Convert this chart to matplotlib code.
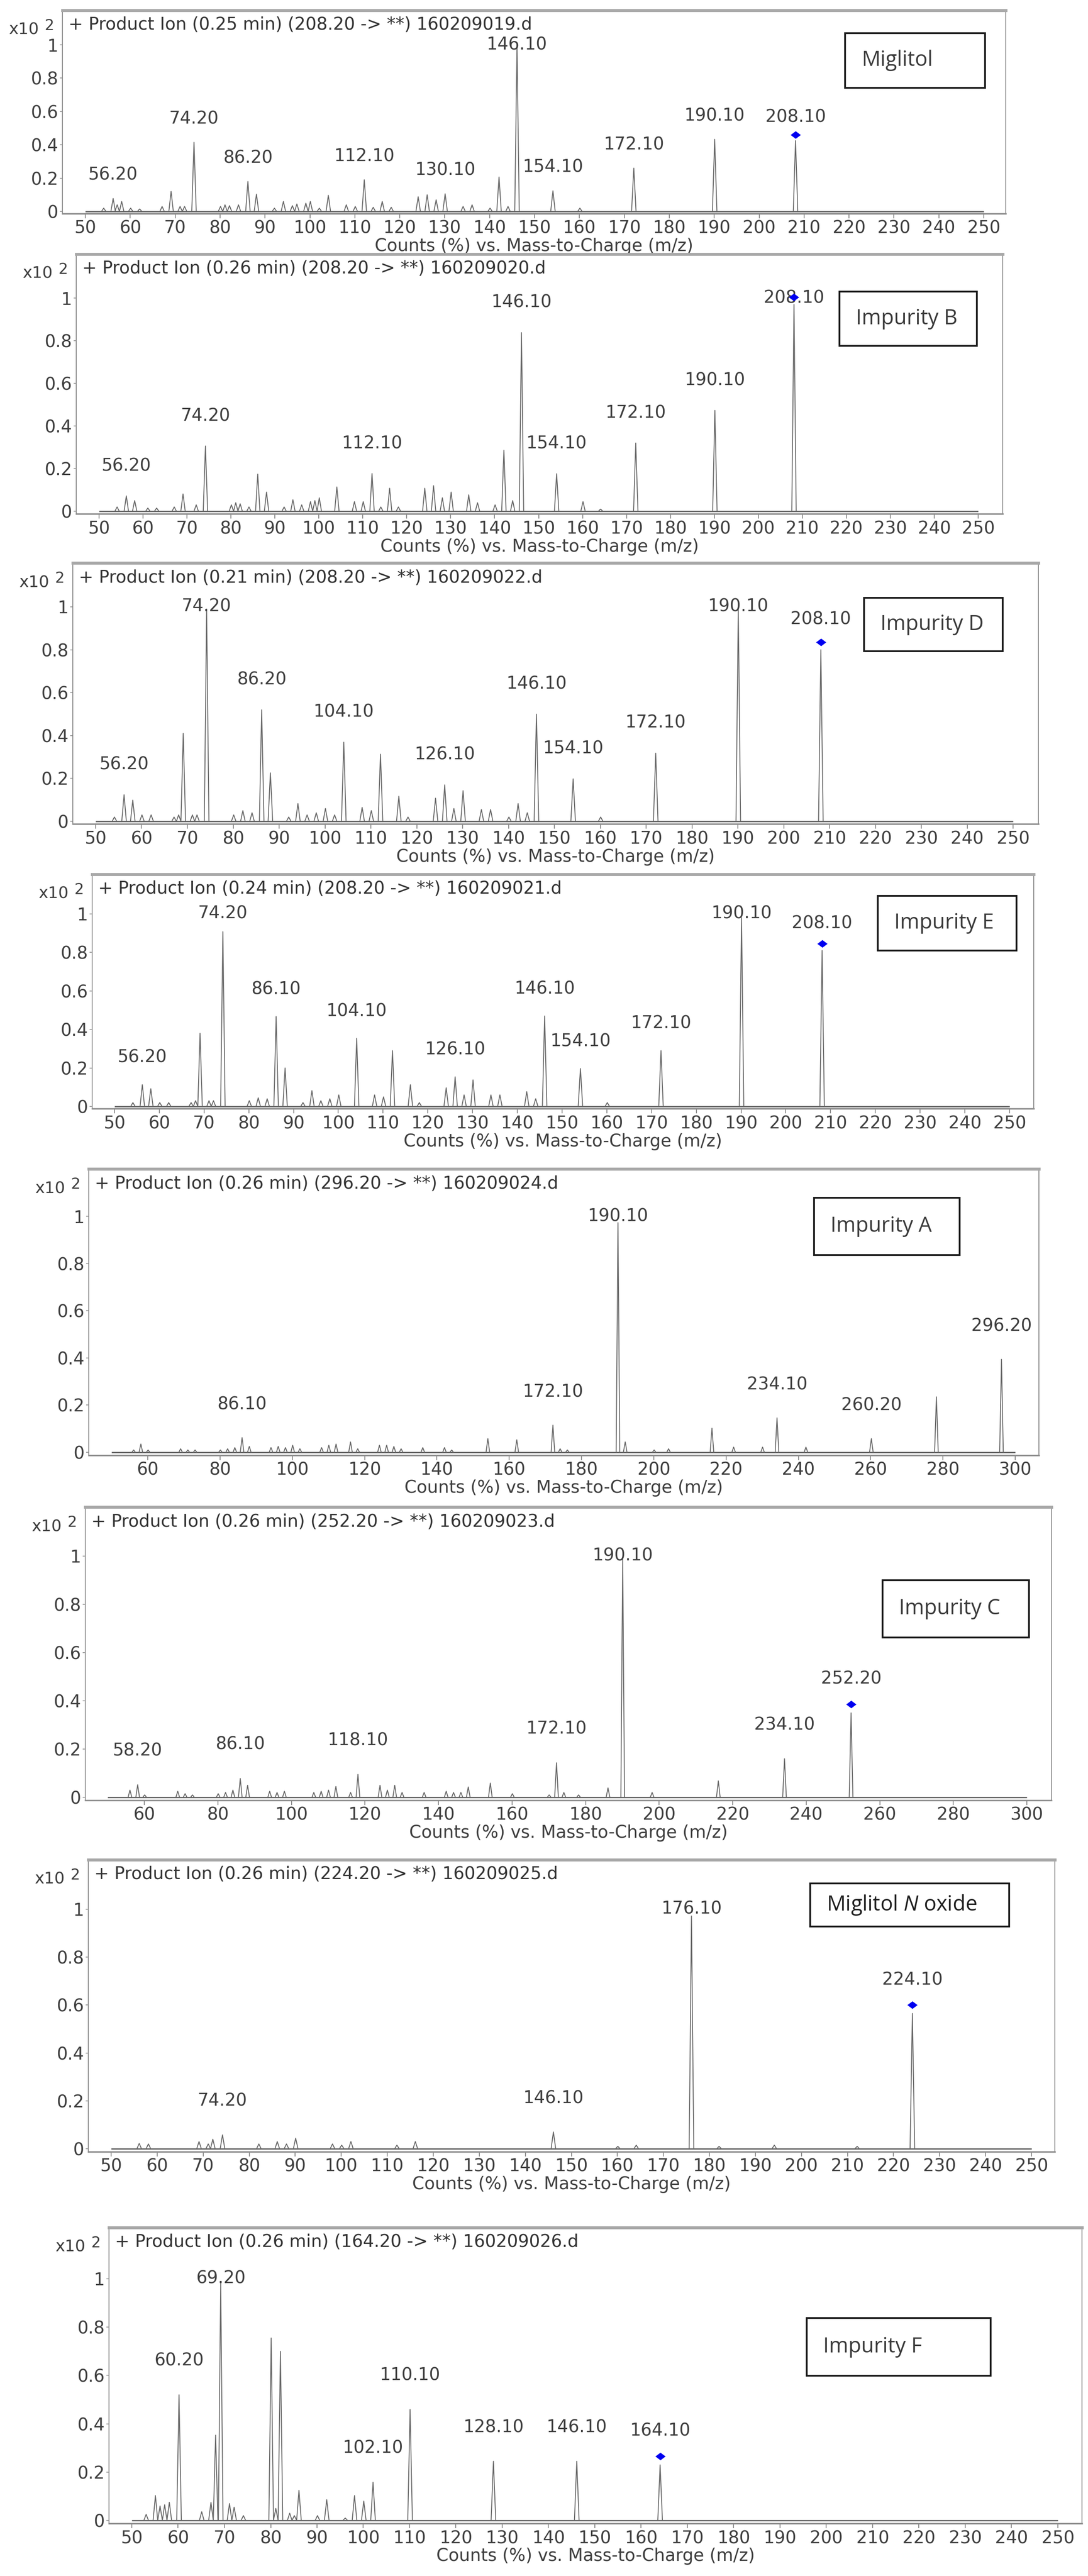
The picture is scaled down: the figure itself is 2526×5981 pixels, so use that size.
import matplotlib.pyplot as plt
from matplotlib.patches import Rectangle

plt.rcParams['font.family'] = ['DejaVu Sans']
plt.rcParams['mathtext.fontset'] = 'custom'
plt.rcParams['mathtext.rm'] = 'Open Sans'
plt.rcParams['mathtext.it'] = 'Open Sans:italic'

W, H = 2526, 5981

# ---- spectra (m/z, relative counts x10^2) ----
mig_mz = [54.1, 56.2, 57.1, 58.1, 60.1, 62.1, 67.1, 69.1, 71.1, 72.1, 74.2, 80.1, 81.1, 82.1, 84.1,
          86.2, 88.1, 92.1, 94.1, 96.1, 97.1, 99.1, 100.1, 102.1, 104.1, 108.1, 110.1, 112.1, 114.1,
          116.1, 118.1, 124.1, 126.1, 128.1, 130.1, 134.1, 136.1, 140.1, 142.1, 144.1, 146.1, 154.1,
          160.1, 172.1, 190.1, 208.1]
mig_int = [0.02, 0.078, 0.04, 0.06, 0.02, 0.015, 0.03, 0.12, 0.03, 0.03, 0.415, 0.03, 0.04, 0.035, 0.04,
           0.18, 0.104, 0.02, 0.06, 0.035, 0.045, 0.05, 0.06, 0.02, 0.097, 0.04, 0.03, 0.19, 0.025,
           0.06, 0.025, 0.088, 0.10, 0.07, 0.106, 0.03, 0.04, 0.02, 0.207, 0.03, 1.0, 0.124,
           0.02, 0.26, 0.433, 0.425]
mig_lab = [56.2, 74.2, 86.2, 112.1, 130.1, 146.1, 154.1, 172.1, 190.1, 208.1]

impb_mz = [54.1, 56.2, 58.1, 61.1, 63.1, 67.1, 69.1, 72.1, 74.2, 80.1, 81.1, 82.1, 84.1, 86.1, 88.1,
           92.1, 94.1, 96.1, 98.1, 99.1, 100.1, 104.1, 108.1, 110.1, 112.1, 114.1, 116.1, 118.1,
           124.1, 126.1, 128.1, 130.1, 134.1, 136.1, 140.1, 142.1, 144.1, 146.1, 154.1, 160.1,
           164.1, 172.1, 190.1, 208.1]
impb_int = [0.02, 0.072, 0.05, 0.015, 0.015, 0.02, 0.081, 0.03, 0.306, 0.03, 0.04, 0.035, 0.02, 0.174, 0.09,
            0.02, 0.054, 0.03, 0.045, 0.05, 0.063, 0.114, 0.045, 0.045, 0.177, 0.02, 0.108, 0.02,
            0.108, 0.12, 0.063, 0.09, 0.077, 0.04, 0.03, 0.286, 0.05, 0.838, 0.176, 0.045,
            0.01, 0.32, 0.473, 0.97]
impb_lab = [56.2, 74.2, 112.1, 146.1, 154.1, 172.1, 190.1, 208.1]

impd_mz = [54.1, 56.2, 58.1, 60.1, 62.1, 67.1, 68.1, 69.1, 71.1, 72.1, 74.2, 80.1, 82.1, 84.1, 86.2,
           88.1, 92.1, 94.1, 96.1, 98.1, 100.1, 102.1, 104.1, 108.1, 110.1, 112.1, 116.1, 118.1,
           124.1, 126.1, 128.1, 130.1, 134.1, 136.1, 140.1, 142.1, 144.1, 146.1, 154.1, 160.1,
           172.1, 190.1, 208.1]
impd_int = [0.02, 0.124, 0.099, 0.03, 0.03, 0.02, 0.03, 0.41, 0.03, 0.03, 0.99, 0.03, 0.05, 0.04, 0.52,
            0.226, 0.02, 0.083, 0.03, 0.04, 0.06, 0.03, 0.369, 0.065, 0.05, 0.313, 0.117, 0.02,
            0.108, 0.17, 0.06, 0.143, 0.055, 0.055, 0.02, 0.083, 0.04, 0.50, 0.198, 0.02,
            0.318, 0.99, 0.80]
impd_lab = [56.2, 74.2, 86.2, 104.1, 126.1, 146.1, 154.1, 172.1, 190.1, 208.1]

impe_mz = [54.1, 56.2, 58.1, 60.1, 62.1, 67.1, 68.1, 69.1, 71.1, 72.1, 74.2, 80.1, 82.1, 84.1, 86.1,
           88.1, 92.1, 94.1, 96.1, 98.1, 100.1, 104.1, 108.1, 110.1, 112.1, 116.1, 118.1, 124.1,
           126.1, 128.1, 130.1, 134.1, 136.1, 142.1, 144.1, 146.1, 154.1, 160.1, 172.1, 190.1, 208.1]
impe_int = [0.02, 0.113, 0.092, 0.02, 0.02, 0.02, 0.03, 0.38, 0.03, 0.03, 0.908, 0.03, 0.045, 0.04, 0.467,
            0.2, 0.02, 0.082, 0.03, 0.04, 0.06, 0.354, 0.06, 0.05, 0.29, 0.113, 0.02, 0.097,
            0.154, 0.06, 0.138, 0.06, 0.06, 0.077, 0.04, 0.47, 0.197, 0.02, 0.29, 0.98, 0.81]
impe_lab = [56.2, 74.2, 86.1, 104.1, 126.1, 146.1, 154.1, 172.1, 190.1, 208.1]

impa_mz = [56.1, 58.1, 60.1, 69.1, 71.1, 73.1, 80.1, 82.1, 84.1, 86.1, 88.1, 94.1, 96.1, 98.1, 100.1,
           102.1, 108.1, 110.1, 112.1, 116.1, 118.1, 124.1, 126.1, 128.1, 130.1, 136.1, 142.1, 144.1,
           154.1, 162.1, 172.1, 174.1, 176.1, 190.1, 192.1, 200.1, 204.1, 216.1, 222.1, 230.1,
           234.1, 242.1, 260.2, 278.2, 296.2]
impa_int = [0.01, 0.035, 0.01, 0.015, 0.01, 0.01, 0.01, 0.015, 0.02, 0.062, 0.025, 0.02, 0.025, 0.02, 0.03,
            0.015, 0.02, 0.03, 0.035, 0.044, 0.015, 0.03, 0.03, 0.025, 0.015, 0.02, 0.02, 0.01,
            0.058, 0.053, 0.115, 0.015, 0.01, 0.973, 0.044, 0.01, 0.015, 0.102, 0.022, 0.022,
            0.146, 0.022, 0.058, 0.235, 0.394]
impa_lab = [86.1, 172.1, 190.1, 234.1, 260.2, 296.2]

impc_mz = [56.1, 58.2, 60.1, 69.1, 71.1, 73.1, 80.1, 82.1, 84.1, 86.1, 88.1, 94.1, 96.1, 98.1, 106.1,
           108.1, 110.1, 112.1, 116.1, 118.1, 124.1, 126.1, 128.1, 130.1, 136.1, 142.1, 144.1,
           146.1, 148.1, 154.1, 160.1, 170.1, 172.1, 174.1, 178.1, 186.1, 190.1, 198.1, 216.1,
           234.1, 252.2]
impc_int = [0.03, 0.052, 0.01, 0.025, 0.015, 0.01, 0.015, 0.02, 0.03, 0.078, 0.05, 0.025, 0.02, 0.025, 0.02,
            0.025, 0.03, 0.045, 0.02, 0.095, 0.05, 0.03, 0.05, 0.02, 0.02, 0.025, 0.02,
            0.02, 0.043, 0.059, 0.015, 0.01, 0.143, 0.02, 0.01, 0.039, 0.987, 0.02, 0.068,
            0.16, 0.35]
impc_lab = [58.2, 86.1, 118.1, 172.1, 190.1, 234.1, 252.2]

nox_mz = [56.1, 58.1, 69.1, 71.1, 72.1, 74.2, 82.1, 86.1, 88.1, 90.1, 98.1, 100.1, 102.1, 112.1,
          116.1, 146.1, 160.1, 164.1, 176.1, 182.1, 194.1, 212.1, 224.1]
nox_int = [0.022, 0.02, 0.03, 0.02, 0.04, 0.058, 0.02, 0.03, 0.02, 0.044, 0.02, 0.015, 0.03, 0.015,
           0.03, 0.07, 0.01, 0.015, 0.972, 0.01, 0.015, 0.01, 0.565]
nox_lab = [74.2, 146.1, 176.1, 224.1]

impf_mz = [53.1, 55.1, 56.1, 57.1, 58.1, 60.2, 65.1, 67.1, 68.1, 69.2, 71.1, 72.1, 74.1, 80.1, 81.1,
           82.1, 84.1, 85.1, 86.1, 90.1, 92.1, 96.1, 98.1, 100.1, 102.1, 110.1, 128.1, 146.1, 164.1]
impf_int = [0.025, 0.103, 0.06, 0.065, 0.075, 0.52, 0.036, 0.075, 0.353, 0.983, 0.07, 0.055, 0.02, 0.755, 0.05,
            0.70, 0.03, 0.02, 0.125, 0.02, 0.086, 0.01, 0.103, 0.08, 0.158, 0.459, 0.245, 0.245, 0.23]
impf_lab = [60.2, 69.2, 102.1, 110.1, 128.1, 146.1, 164.1]

titles = ['+ Product Ion (0.25 min) (208.20 -> **) 160209019.d',
          '+ Product Ion (0.26 min) (208.20 -> **) 160209020.d',
          '+ Product Ion (0.21 min) (208.20 -> **) 160209022.d',
          '+ Product Ion (0.24 min) (208.20 -> **) 160209021.d',
          '+ Product Ion (0.26 min) (296.20 -> **) 160209024.d',
          '+ Product Ion (0.26 min) (252.20 -> **) 160209023.d',
          '+ Product Ion (0.26 min) (224.20 -> **) 160209025.d',
          '+ Product Ion (0.26 min) (164.20 -> **) 160209026.d']
names = ['Miglitol', 'Impurity B', 'Impurity D', 'Impurity E', 'Impurity A', 'Impurity C',
         r'Miglitol $\mathit{N}$ oxide', 'Impurity F']
precursor = [208.1, 208.1, 208.1, 208.1, None, 252.2, 224.1, 164.1]
mz_range = [(50, 250)] * 4 + [(50, 300)] * 2 + [(50, 250)] * 2

spectra = [(mig_mz, mig_int, mig_lab), (impb_mz, impb_int, impb_lab), (impd_mz, impd_int, impd_lab),
           (impe_mz, impe_int, impe_lab), (impa_mz, impa_int, impa_lab), (impc_mz, impc_int, impc_lab),
           (nox_mz, nox_int, nox_lab), (impf_mz, impf_int, impf_lab)]

# ---- layout in pixels: frame left/right/top, y=0 and y=1 rows, first/last x tick columns ----
frames = [(145, 2335, 24, 491, 104, 198, 2284),
          (177, 2328, 590, 1187, 692, 230, 2271),
          (169, 2411, 1307, 1907, 1409, 222, 2352),
          (214, 2400, 2030, 2569, 2122, 266, 2344),
          (206, 2412, 2714, 3372, 2824, 343, 2357),
          (198, 2441, 3499, 4173, 3613, 335, 2384),
          (205, 2449, 4318, 4989, 4433, 258, 2395),
          (253, 2512, 5172, 5852, 5291, 306, 2456)]
boxes = [(1962, 2287, 77, 204), (1949, 2268, 677, 803), (2006, 2328, 1388, 1512),
         (2038, 2360, 2080, 2207), (1890, 2228, 2781, 2914), (2049, 2389, 3669, 3802),
         (1881, 2343, 4373, 4473), (1873, 2300, 5382, 5516)]

TXT = '#3f3f3f'
LINE = '#666666'
FS = 29

fig = plt.figure(figsize=(W / 100, H / 100), dpi=100)

for i in range(8):
    mz, inten, labs = spectra[i]
    L, R, T, y0, y1, xa, xb = frames[i]
    lo, hi = mz_range[i]
    step = 10 if hi == 250 else 20
    first = lo if step == 10 else 60
    B = y0 + 0.012 * (y0 - y1)
    ax = fig.add_axes([L / W, 1 - B / H, (R - L) / W, (B - T) / H])

    ppu = (xb - xa) / (hi - first)
    ax.set_xlim(first - (xa - L) / ppu, hi + (R - xb) / ppu)
    ax.set_ylim(-0.012, 1 + (y1 - T) / (y0 - y1))

    # baseline and peaks
    ax.plot([lo, hi], [0, 0], color=LINE, lw=2.2, solid_capstyle='butt')
    for m, h in zip(mz, inten):
        ax.plot([m - 0.5, m, m + 0.5], [0, h, 0], color=LINE, lw=1.5)

    for lab in labs:
        j = min(range(len(mz)), key=lambda k: abs(mz[k] - lab))
        ax.text(mz[j], min(inten[j] + 0.14, 1.0), '%.2f' % lab, ha='center', va='center',
                fontsize=FS, color=TXT)

    if precursor[i] is not None:
        j = mz.index(precursor[i])
        ax.plot(mz[j], inten[j] + 0.035, marker=[(-1, 0), (0, 0.75), (1, 0), (0, -0.75)],
                ms=17, color='#0000f0', mew=0, zorder=5)

    ax.set_xticks(range(first, hi + 1, step))
    ax.set_yticks([0, 0.2, 0.4, 0.6, 0.8, 1])
    ax.set_yticklabels(['0', '0.2', '0.4', '0.6', '0.8', '1'])
    ax.tick_params(axis='x', direction='out', length=8, width=1.5, color='#8a8a8a',
                   labelsize=FS, labelcolor=TXT, pad=3)
    ax.tick_params(axis='y', direction='out', length=4, width=1.2, color='#8a8a8a',
                   labelsize=FS, labelcolor=TXT, pad=3)
    ax.set_xlabel('Counts (%) vs. Mass-to-Charge (m/z)', fontsize=FS, color=TXT, labelpad=1)

    for side in ['left', 'right']:
        ax.spines[side].set_color('#8c8c8c')
        ax.spines[side].set_linewidth(1.5)
    ax.spines['top'].set_color('#a8a8a8')
    ax.spines['top'].set_linewidth(5)
    ax.spines['bottom'].set_color('#8c8c8c')
    ax.spines['bottom'].set_linewidth(2.5)

    ax.annotate(titles[i], xy=(0, 1), xycoords='axes fraction', xytext=(14, -34),
                textcoords='offset pixels', ha='left', va='center', fontsize=FS, color='#333333')
    ax.annotate('x10', xy=(0, 1), xycoords='axes fraction', xytext=(-54, -46),
                textcoords='offset pixels', ha='right', va='center', fontsize=FS - 2, color=TXT)
    ax.annotate('2', xy=(0, 1), xycoords='axes fraction', xytext=(-30, -36),
                textcoords='offset pixels', ha='center', va='center', fontsize=FS - 4, color=TXT)

    # compound name box
    bx0, bx1, by0, by1 = boxes[i]
    fig.add_artist(Rectangle((bx0 / W, 1 - by1 / H), (bx1 - bx0) / W, (by1 - by0) / H,
                             transform=fig.transFigure, fill=False, lw=3, edgecolor='#1a1a1a'))
    fig.text((bx0 + 38) / W, 1 - (by0 + by1) / 2 / H, names[i], ha='left', va='center',
             fontsize=35, color='#1e1e1e' if i == 6 else '#3a3a3a', family='Open Sans')

fig.savefig('out.png', dpi=100, facecolor='white')
